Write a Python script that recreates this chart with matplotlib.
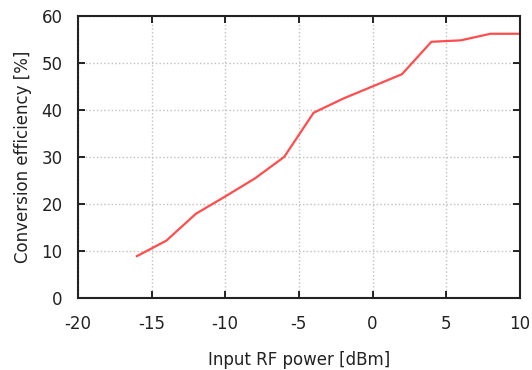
import matplotlib
matplotlib.use("Agg")
import matplotlib.pyplot as plt

# input RF power (dBm) vs conversion efficiency (%)
power_dbm = [-16, -14, -12, -10, -8, -6, -4, -2, 0, 2, 4, 6, 8, 10]
efficiency = [8.9, 12.2, 17.9, 21.6, 25.4, 30.0, 39.4, 42.4, 45.0, 47.6, 54.5, 54.8, 56.2, 56.2]

x_ticks = [-20, -15, -10, -5, 0, 5, 10]
y_ticks = [0, 10, 20, 30, 40, 50, 60]

plt.rcParams['font.family'] = ['DejaVu Sans']
plt.rcParams['axes.unicode_minus'] = False

fig = plt.figure(figsize=(5.32, 3.7), dpi=100)
ax = fig.add_axes([0.1466, 0.1946, 0.8304, 0.7624])

ax.plot(power_dbm, efficiency, color='#ff4d4d', linewidth=1.6)

ax.set_xlim(-20, 10)
ax.set_ylim(0, 60)
ax.set_xticks(x_ticks)
ax.set_yticks(y_ticks)

ax.grid(True, color='#c0c0c0', linestyle=':', linewidth=1.0)
ax.tick_params(direction='in', length=5, width=1.2, top=True, right=True,
               labelsize=12, colors='black', labelcolor='#222222')
ax.tick_params(axis='x', pad=12)
ax.tick_params(axis='y', pad=11)
for s in ax.spines.values():
    s.set_linewidth(1.5)
    s.set_color('#222222')

ax.set_xlabel("Input RF power [dBm]", fontsize=12, color='#222222', labelpad=13)
ax.set_ylabel("Conversion efficiency [%]", fontsize=12, color='#222222', labelpad=7)

fig.savefig("out.png", dpi=100)
